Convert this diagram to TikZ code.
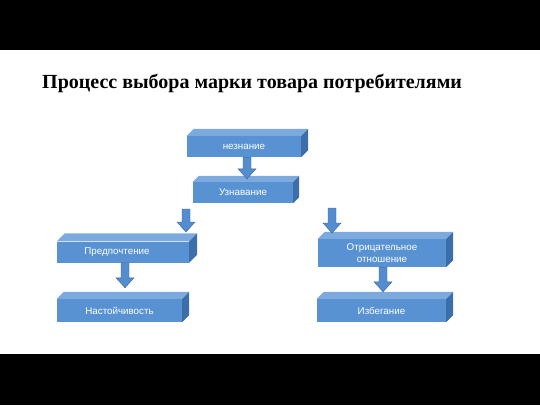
\documentclass[tikz,border=0pt]{standalone}
\usepackage{fontspec}
\setmainfont{Liberation Serif}
\newfontfamily\boxfont{Liberation Sans}
\usetikzlibrary{calc}
\definecolor{frontc}{RGB}{88,146,210}
\definecolor{topc}{RGB}{125,170,222}
\definecolor{sidec}{RGB}{60,110,170}
\definecolor{arrowc}{RGB}{84,140,208}
\definecolor{arrowline}{RGB}{60,100,150}
\tikzset{
  cubebox/.style={rectangle, fill=frontc, draw=none, inner sep=0pt,
    text=white, font=\boxfont\fontsize{9.8}{11}\selectfont, align=center},
  topface/.style={fill=topc},
  sideface/.style={fill=sidec},
  arrowfill/.style={fill=arrowc, draw=arrowline, line width=0.4pt, line join=miter},
}
\newcommand\cubefaces[2]{%
  \fill[topface] (#1.north west) -- ++(#2,-#2) -- ($(#1.north east)+(#2,-#2)$) -- (#1.north east) -- cycle;
  \fill[sideface] (#1.north east) -- ++(#2,-#2) -- ($(#1.south east)+(#2,-#2)$) -- (#1.south east) -- cycle;
}
\newcommand\barrow[2]{%
  \path[arrowfill] let \p1=#1, \p2=#2 in
    (\x1-4pt,\y1) -- (\x1+4pt,\y1) -- (\x1+4pt,\y2+10pt) -- (\x1+9pt,\y2+10pt)
    -- (\x1,\y2) -- (\x1-9pt,\y2+10pt) -- (\x1-4pt,\y2+10pt) -- cycle;
}
\begin{document}
\begin{tikzpicture}[x=1pt,y=-1pt]
\useasboundingbox (0,0) rectangle (540,405);
\fill[black] (0,0) rectangle (540,50);
\fill[black] (0,354) rectangle (540,405);
\node[anchor=base west, inner sep=0pt, font=\bfseries\fontsize{20}{22}\selectfont] (title) at (42,88) {Процесс выбора марки товара потребителями};

\node[cubebox, minimum width=114pt, minimum height=21pt] (A) at (244,146.5) {незнание};
\node[cubebox, minimum width=100pt, minimum height=21pt] (B) at (243,192.5) {Узнавание};
\node[cubebox, minimum width=132pt, minimum height=21pt] (C) at (123,252) {\raisebox{-1.5pt}{Предпочтение}\hspace*{12pt}};
\node[cubebox, minimum width=125pt, minimum height=23pt] (D) at (119.5,310.5) {Настойчивость};
\node[cubebox, minimum width=128pt, minimum height=28pt, font=\boxfont\fontsize{9.8}{12}\selectfont] (E) at (382,253) {Отрицательное\\отношение};
\node[cubebox, minimum width=129pt, minimum height=23pt] (F) at (381.5,310.5) {Избегание};

\cubefaces{A}{7}
\cubefaces{B}{6}
\cubefaces{C}{8}
\cubefaces{D}{7}
\cubefaces{E}{7}
\cubefaces{F}{7}

\coordinate (c1) at (186,209);
\coordinate (c1t) at (186,232);
\coordinate (e1) at (332,208);
\coordinate (e1t) at (332,233);

\barrow{(A.south -| 247,0)}{($(B.north -| 247,0)+(0,-3)$)}
\barrow{(c1)}{(c1t)}
\barrow{(e1)}{(e1t)}
\barrow{(C.south -| 125,0)}{($(D.north -| 125,0)+(0,-11)$)}
\barrow{(E.south -| 383,0)}{($(F.north -| 383,0)+(0,-7)$)}
\end{tikzpicture}
\end{document}
